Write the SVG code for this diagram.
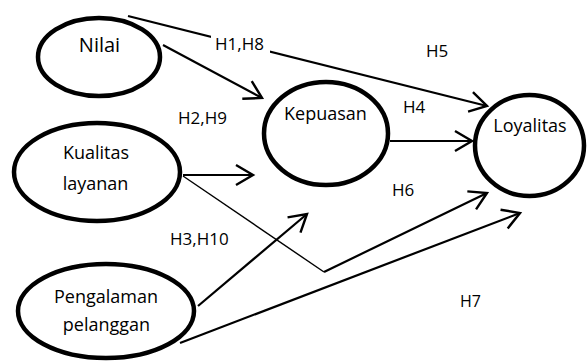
<svg xmlns="http://www.w3.org/2000/svg" width="587" height="361" viewBox="0 0 587 361">
<style>
  .node { fill: #fff; stroke: #000; stroke-width: 4.5; }
  .ntext { font-family: "Open Sans", "Liberation Sans", sans-serif; font-size: 18px; fill: #000; text-anchor: middle; }
  .lbl { font-family: "Open Sans", "Liberation Sans", sans-serif; font-size: 17px; fill: #000; }
  .edge { fill: none; stroke: #000; stroke-width: 2.2; }
  .thin { fill: none; stroke: #000; stroke-width: 1.4; }
</style>
<defs>
  <marker id="arrow" markerUnits="userSpaceOnUse" markerWidth="30" markerHeight="30" viewBox="-20 -15 30 30" refX="0" refY="0" orient="auto" overflow="visible">
    <path d="M-17,-10 L0,0 L-17,10" fill="none" stroke="#000" stroke-width="2.4" stroke-linejoin="miter"/>
  </marker>
</defs>
<rect width="587" height="361" fill="#fff"/>
<g id="connectors">
  <path class="edge" d="M128,16 L487,106" marker-end="url(#arrow)"/>
  <path class="edge" d="M163,45 L262,98" marker-end="url(#arrow)"/>
  <path class="edge" d="M183,175 L253,175" marker-end="url(#arrow)"/>
  <path class="edge" d="M390,141 L472,141" marker-end="url(#arrow)"/>
  <path class="thin" d="M183,176 L324,272"/>
  <path class="edge" d="M324,272 L487,193" marker-end="url(#arrow)"/>
  <path class="edge" d="M198,306 L307,214" marker-end="url(#arrow)"/>
  <path class="edge" d="M180,343 L520,213" marker-end="url(#arrow)"/>
</g>
<g id="labels">
  <rect x="211" y="33" width="59" height="22" fill="#fff"/>
  <text class="lbl" x="215" y="50">H1,H8</text>
  <text class="lbl" x="178" y="124">H2,H9</text>
  <text class="lbl" x="170" y="245">H3,H10</text>
  <text class="lbl" x="403" y="113">H4</text>
  <text class="lbl" x="426" y="57">H5</text>
  <text class="lbl" x="392" y="196">H6</text>
  <text class="lbl" x="460" y="307" style="font-size:16px">H7</text>
</g>
<g id="nilai">
  <ellipse class="node" cx="99" cy="57" rx="61" ry="39"/>
  <text class="ntext" x="99.5" y="52" style="font-size:20px">Nilai</text>
</g>
<g id="kualitas-layanan">
  <ellipse class="node" cx="97" cy="172" rx="83" ry="49"/>
  <text class="ntext" x="96" y="159">Kualitas</text>
  <text class="ntext" x="95.5" y="190">layanan</text>
</g>
<g id="pengalaman-pelanggan">
  <ellipse class="node" cx="106" cy="311" rx="88" ry="47"/>
  <text class="ntext" x="106" y="303">Pengalaman</text>
  <text class="ntext" x="106.5" y="331">pelanggan</text>
</g>
<g id="kepuasan">
  <ellipse class="node" cx="326" cy="133.5" rx="62" ry="51.5"/>
  <text class="ntext" x="325.5" y="120">Kepuasan</text>
</g>
<g id="loyalitas">
  <ellipse class="node" cx="529.5" cy="145.5" rx="54.5" ry="50.5"/>
  <text class="ntext" x="530" y="132">Loyalitas</text>
</g>
</svg>
